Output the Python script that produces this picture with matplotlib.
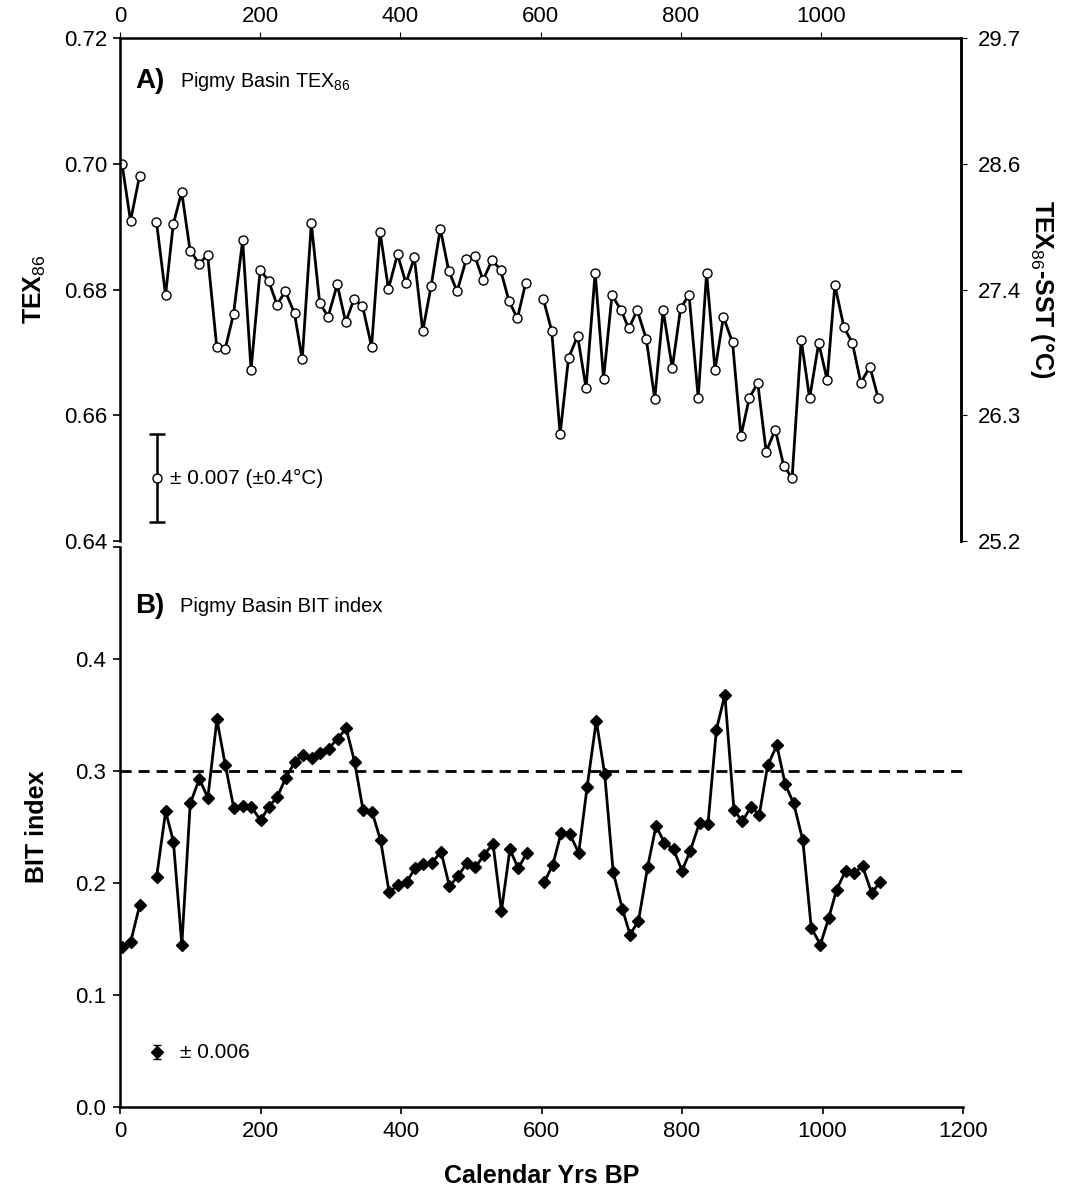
import numpy as np
import matplotlib
matplotlib.use("Agg")
import matplotlib.pyplot as plt

plt.rcParams['font.family'] = ['Liberation Sans', 'DejaVu Sans']
plt.rcParams['mathtext.fontset'] = 'custom'
plt.rcParams['mathtext.rm'] = 'Liberation Sans'
plt.rcParams['mathtext.bf'] = 'Liberation Sans:bold'
plt.rcParams['mathtext.it'] = 'Liberation Sans:italic'

nan = np.nan
# Calendar years BP (nan rows mark gaps in the record)
ages = [3, 15, 28, 40,
        52, 65, 76, 88, 100, 113, 125, 138, 150, 162, 175, 187, 200, 212, 224, 236,
        249, 260, 273, 285, 297, 310, 322, 334, 346, 359, 371, 383, 396, 408, 420, 432,
        444, 457, 469, 481, 494, 506, 518, 531, 543, 555, 567, 579, 591,
        604, 616, 628, 640, 653, 665, 678, 690, 702, 715, 726, 738, 751, 763, 775, 788,
        800, 812, 825, 837, 849, 861, 874, 886, 898, 910, 922, 935, 947, 959, 972, 984,
        997, 1009, 1020, 1033, 1045, 1057, 1070, 1082]

tex86 = [0.6999, 0.6909, 0.6981, nan,
         0.6908, 0.6791, 0.6904, 0.6955, 0.6862, 0.6841, 0.6855, 0.6709, 0.6705, 0.6761,
         0.6878, 0.6672, 0.6831, 0.6814, 0.6776, 0.6797, 0.6762, 0.6689, 0.6905, 0.6778,
         0.6757, 0.6808, 0.6748, 0.6785, 0.6774, 0.6709, 0.6892, 0.6801, 0.6856, 0.6810,
         0.6851, 0.6734, 0.6806, 0.6897, 0.6830, 0.6797, 0.6848, 0.6854, 0.6815, 0.6847,
         0.6831, 0.6782, 0.6754, 0.6811, nan,
         0.6785, 0.6734, 0.6570, 0.6691, 0.6726, 0.6643, 0.6827, 0.6658, 0.6791, 0.6767,
         0.6738, 0.6767, 0.6721, 0.6626, 0.6767, 0.6675, 0.6771, 0.6791, 0.6628, 0.6826,
         0.6672, 0.6756, 0.6716, 0.6567, 0.6628, 0.6651, 0.6542, 0.6577, 0.6520, 0.6500,
         0.6720, 0.6627, 0.6715, 0.6656, 0.6807, 0.6740, 0.6715, 0.6652, 0.6677, 0.6627]

bit = [0.143, 0.147, 0.180, nan,
       0.205, 0.264, 0.237, 0.145, 0.271, 0.293, 0.276, 0.346, 0.305, 0.267, 0.269,
       0.268, 0.256, 0.268, 0.277, 0.294, 0.308, 0.314, 0.312, 0.316, 0.320, 0.329,
       0.338, 0.308, 0.265, 0.263, 0.238, 0.192, 0.198, 0.201, 0.213, 0.217, 0.218,
       0.228, 0.197, 0.206, 0.218, 0.214, 0.225, 0.235, 0.175, 0.230, 0.213, 0.227, nan,
       0.201, 0.216, 0.245, 0.244, 0.227, 0.286, 0.345, 0.297, 0.210, 0.177, 0.154,
       0.166, 0.214, 0.251, 0.236, 0.230, 0.211, 0.229, 0.254, 0.253, 0.337, 0.368,
       0.265, 0.255, 0.268, 0.261, 0.305, 0.323, 0.288, 0.271, 0.238, 0.160, 0.145,
       0.169, 0.194, 0.211, 0.209, 0.215, 0.191, 0.201]

tex_ticks = [0.64, 0.66, 0.68, 0.70, 0.72]
tex_ticklabels = ['0.64', '0.66', '0.68', '0.70', '0.72']
sst_ticklabels = ['25.2', '26.3', '27.4', '28.6', '29.7']
top_xticks = [0, 200, 400, 600, 800, 1000]
bit_ticks = [0.0, 0.1, 0.2, 0.3, 0.4, 0.5]
bit_ticklabels = ['0.0', '0.1', '0.2', '0.3', '0.4', '']
bot_xticks = [0, 200, 400, 600, 800, 1000, 1200]
bit_threshold = 0.3

tex_err_x, tex_err_y, tex_err = 53, 0.650, 0.007
bit_err_x, bit_err_y, bit_err = 53, 0.049, 0.006

W, H = 1073, 1190
fig = plt.figure(figsize=(W / 100, H / 100), dpi=100)

L = 120 / W
axA = fig.add_axes([L, 1 - 541 / H, (961 - 120) / W, (541 - 38) / H])
axB = fig.add_axes([L, 1 - 1107 / H, (963 - 120) / W, (1107 - 547) / H])

spine_w = 1.8
tick_fs = 16

# ---------- Panel A ----------
axA.plot(ages, tex86, color='black', lw=2.0, marker='o', ms=6.5,
         mfc='white', mec='black', mew=1.0)
axA.set_xlim(0, 1200)
axA.set_ylim(0.64, 0.72)
axA.set_yticks(tex_ticks)
axA.set_yticklabels(tex_ticklabels)
axA.xaxis.tick_top()
axA.set_xticks(top_xticks)
axA.spines['bottom'].set_visible(False)
for s in ['top', 'left', 'right']:
    axA.spines[s].set_linewidth(spine_w)
axA.tick_params(axis='both', direction='out', length=4, width=0.8, labelsize=tick_fs, pad=4)
axA.tick_params(axis='y', length=5, width=1.2)
axA.set_ylabel(r'TEX$_{86}$', fontsize=18, fontweight='bold', labelpad=12)

axA2 = axA.twinx()
axA2.set_ylim(0.64, 0.72)
axA2.set_yticks(tex_ticks)
axA2.set_yticklabels(sst_ticklabels)
axA2.spines['bottom'].set_visible(False)
axA2.spines['right'].set_linewidth(spine_w)
axA2.tick_params(axis='y', direction='out', length=4, width=0.8, labelsize=tick_fs, pad=8)
axA2.set_ylabel(r'TEX$_{86}$-SST (°C)', fontsize=18, fontweight='bold',
                rotation=270, labelpad=25)

axA.errorbar([tex_err_x], [tex_err_y], yerr=[tex_err], fmt='o', color='black',
             mfc='white', mec='black', ms=6.5, capsize=6, elinewidth=1.8, capthick=1.8)
axA.text(71, tex_err_y, '± 0.007 (±0.4°C)', fontsize=15, va='center', ha='left')
axA.text(0.018, 0.915, 'A)', transform=axA.transAxes, fontsize=20, fontweight='bold',
         va='center', ha='left')
axA.text(0.071, 0.913, r'Pigmy Basin TEX$_{86}$', transform=axA.transAxes, fontsize=14.2,
         va='center', ha='left')

# ---------- Panel B ----------
axB.axhline(bit_threshold, color='black', lw=2.0, ls=(0, (4, 2.5)))
axB.plot(ages, bit, color='black', lw=2.0, marker='D', ms=6, mfc='black', mec='black')
axB.set_xlim(0, 1200)
axB.set_ylim(0, 0.5)
axB.set_xticks(bot_xticks)
axB.set_yticks(bit_ticks)
axB.set_yticklabels(bit_ticklabels)
axB.spines['top'].set_visible(False)
axB.spines['right'].set_visible(False)
for s in ['bottom', 'left']:
    axB.spines[s].set_linewidth(spine_w)
axB.tick_params(axis='both', direction='out', length=5, width=1.2, labelsize=tick_fs, pad=5)
axB.set_ylabel('BIT index', fontsize=18, fontweight='bold', labelpad=19)
axB.set_xlabel('Calendar Yrs BP', fontsize=18, fontweight='bold', labelpad=16)

axB.errorbar([bit_err_x], [bit_err_y], yerr=[bit_err], fmt='D', color='black',
             ms=6, capsize=3, elinewidth=1.4)
axB.text(85, bit_err_y, '± 0.006', fontsize=15, va='center', ha='left')
axB.text(0.018, 0.895, 'B)', transform=axB.transAxes, fontsize=20, fontweight='bold',
         va='center', ha='left')
axB.text(0.071, 0.893, 'Pigmy Basin BIT index', transform=axB.transAxes, fontsize=14.5,
         va='center', ha='left')

fig.savefig('out.png', dpi=100)
